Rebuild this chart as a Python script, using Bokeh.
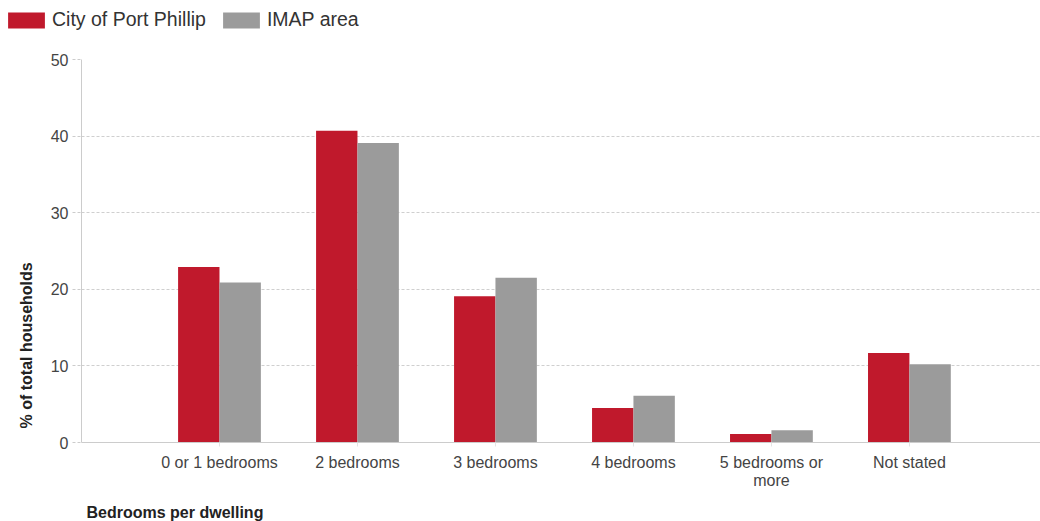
from bokeh.embed import file_html
from bokeh.layouts import column, row
from bokeh.resources import INLINE
from bokeh.plotting import figure
from bokeh.models import (ColumnDataSource, FixedTicker, Legend, LegendItem,
                          Range1d, Title)

# Households by number of bedrooms (% of total households)
categories = ["0 or 1 bedrooms", "2 bedrooms", "3 bedrooms", "4 bedrooms",
              "5 bedrooms or\nmore", "Not stated"]
port_phillip = [22.9, 40.7, 19.1, 4.5, 1.1, 11.7]
imap_area = [20.9, 39.1, 21.5, 6.1, 1.6, 10.2]
series_names = ["City of Port Phillip", "IMAP area"]
y_ticks = [0, 10, 20, 30, 40, 50]

RED = "#C0192C"
GREY = "#9B9B9B"
FONT = "Liberation Sans"

positions = list(range(1, len(categories) + 1))
src = ColumnDataSource(dict(
    pos=positions,
    pos_a=[p - 0.15 for p in positions],
    pos_b=[p + 0.15 for p in positions],
    port=port_phillip,
    imap=imap_area,
))

# ---- legend strip across the top (its own view window keeps the bars out of sight) ----
leg = figure(width=1040, height=49, output_backend="svg", toolbar_location=None,
             x_range=Range1d(-10, -9), y_range=Range1d(0, 1),
             x_axis_location=None, y_axis_location=None,
             min_border=0)
leg.grid.visible = False
leg.outline_line_color = None
lr1 = leg.vbar(x="pos_a", top="port", width=0.3, source=src, fill_color=RED, line_color=None)
lr2 = leg.vbar(x="pos_b", top="imap", width=0.3, source=src, fill_color=GREY, line_color=None)
legend = Legend(items=[LegendItem(label=series_names[0], renderers=[lr1]),
                       LegendItem(label=series_names[1], renderers=[lr2])],
                location=(3, 18), orientation="horizontal",
                glyph_width=46, glyph_height=20, label_standoff=3, spacing=12,
                label_text_font=FONT, label_text_font_size="19.5px",
                label_text_color="#333333", padding=0, margin=0,
                border_line_color=None, background_fill_alpha=0)
leg.add_layout(legend)

# ---- main bar chart ----
p = figure(frame_width=959, frame_height=383, output_backend="svg",
           toolbar_location=None,
           x_range=Range1d(0, 6.95), y_range=Range1d(0, 50),
           min_border_left=81, min_border_right=0, min_border_top=10,
           min_border_bottom=0)
p.outline_line_color = None

p.vbar(x="pos_a", top="port", width=0.3, source=src, fill_color=RED, line_color=None)
p.vbar(x="pos_b", top="imap", width=0.3, source=src, fill_color=GREY, line_color=None)

# x axis: categories placed at integer positions
p.xaxis.ticker = FixedTicker(ticks=positions)
p.xaxis.major_label_overrides = {pos: lab for pos, lab in zip(positions, categories)}
p.xaxis.major_label_text_font = FONT
p.xaxis.major_label_text_font_size = "16px"
p.xaxis.major_label_text_color = "#444444"
p.xaxis.major_label_text_line_height = 1.1
p.xaxis.major_label_standoff = 7
p.xaxis.axis_line_color = "#cccccc"
p.xaxis.major_tick_line_color = "#e4e4e4"
p.xaxis.major_tick_out = 4
p.xaxis.major_tick_in = 0
p.xaxis.minor_tick_line_color = None

# y axis
p.yaxis.ticker = FixedTicker(ticks=y_ticks)
p.yaxis.major_label_text_font = FONT
p.yaxis.major_label_text_font_size = "16px"
p.yaxis.major_label_text_color = "#444444"
p.yaxis.major_label_standoff = 4
p.yaxis.axis_line_color = "#cccccc"
p.yaxis.major_tick_line_color = "#cccccc"
p.yaxis.major_tick_line_dash = "3 2"
p.yaxis.major_tick_out = 9
p.yaxis.major_tick_in = 0
p.yaxis.minor_tick_line_color = None

p.xgrid.grid_line_color = None
p.ygrid.grid_line_color = "#cfcfcf"
p.ygrid.grid_line_dash = "3 2"

# axis titles as side-panel titles so they can sit off-centre
p.add_layout(Title(text="% of total households", align="left", offset=14,
                   text_font=FONT, text_font_size="16px",
                   text_font_style="bold", text_color="#222222",
                   standoff=26), "left")
p.add_layout(Title(text="Bedrooms per dwelling", align="left", offset=5,
                   text_font=FONT, text_font_size="16px",
                   text_font_style="bold", text_color="#222222",
                   standoff=18), "below")

open("out.html", "w").write(file_html(column(row(leg), p, spacing=0), INLINE))
